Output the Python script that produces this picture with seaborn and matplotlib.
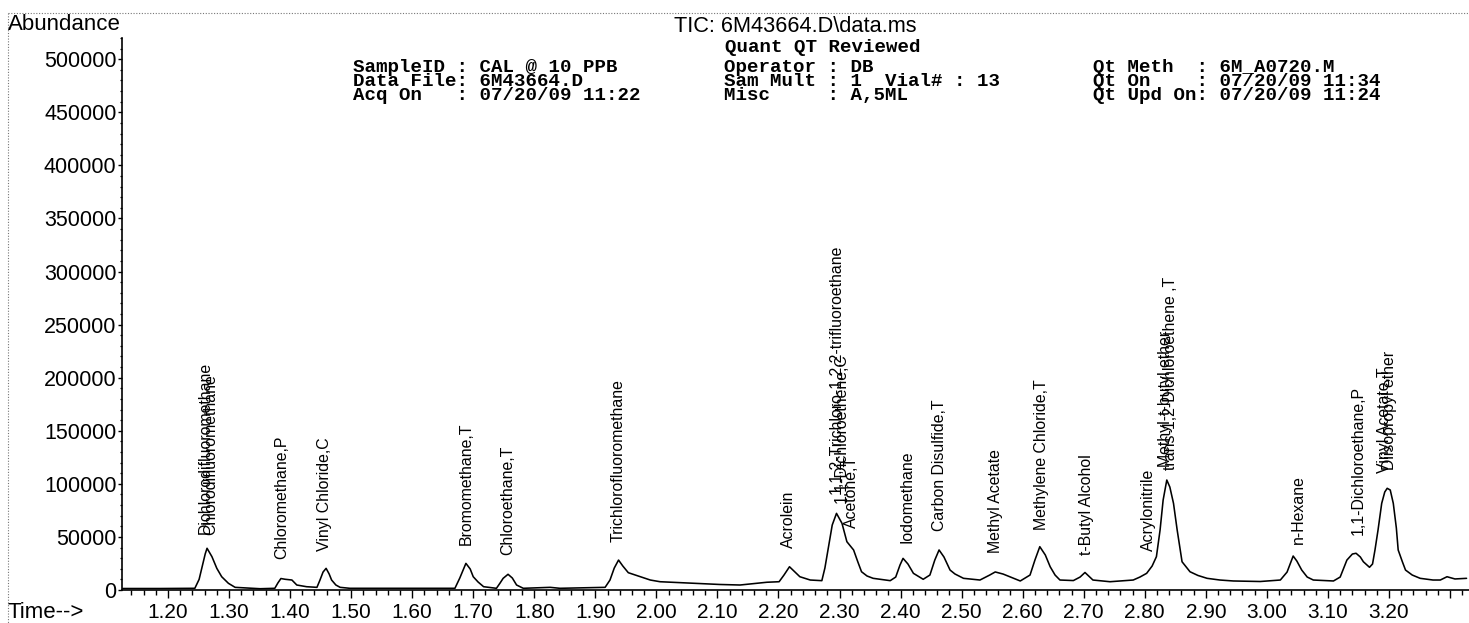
import numpy as np
import pandas as pd
import matplotlib
matplotlib.use("Agg")
import matplotlib.pyplot as plt
from matplotlib.ticker import MultipleLocator, FixedLocator, FixedFormatter
from matplotlib.lines import Line2D
import seaborn as sns

# ---------------- data ----------------
time_min = [
    1.126, 1.187, 1.244, 1.251, 1.256, 1.261, 1.264, 1.272, 1.280, 1.288, 1.299, 1.310, 1.351,
    1.375, 1.380, 1.385, 1.392, 1.403, 1.411, 1.427, 1.444, 1.449, 1.454, 1.459, 1.464, 1.468, 1.475, 1.482, 1.498, 1.580,
    1.670, 1.678, 1.688, 1.695, 1.700, 1.708, 1.717, 1.738, 1.744, 1.749, 1.757, 1.764, 1.771, 1.782, 1.826, 1.842,
    1.916, 1.924, 1.931, 1.938, 1.945, 1.954, 1.974, 1.990, 2.006, 2.039, 2.072, 2.104, 2.137, 2.181, 2.201,
    2.209, 2.218, 2.227, 2.235, 2.252, 2.271, 2.276, 2.282, 2.288, 2.295, 2.304, 2.312, 2.323, 2.330, 2.336, 2.345, 2.355, 2.383,
    2.392, 2.399, 2.404, 2.412, 2.421, 2.437, 2.448, 2.456, 2.463, 2.471, 2.481, 2.489, 2.503, 2.530,
    2.546, 2.555, 2.568, 2.585, 2.596, 2.612, 2.620, 2.628, 2.637, 2.645, 2.653, 2.661, 2.683, 2.694, 2.702, 2.710, 2.715, 2.743, 2.781,
    2.792, 2.803, 2.812, 2.819, 2.825, 2.830, 2.836, 2.841, 2.847, 2.853, 2.861, 2.874, 2.887, 2.902, 2.923, 2.945, 2.989,
    3.022, 3.033, 3.043, 3.049, 3.057, 3.066, 3.076, 3.109, 3.120, 3.131, 3.140, 3.146, 3.153, 3.158, 3.168, 3.173, 3.177,
    3.182, 3.188, 3.193, 3.197, 3.202, 3.207, 3.212, 3.215, 3.222, 3.227, 3.238, 3.251, 3.272, 3.284, 3.295, 3.308, 3.327,
]
abundance = [
    1400, 1400, 1600, 10000, 22000, 34000, 39300, 31400, 20400, 12500, 6300, 2500, 1200,
    1600, 6600, 10800, 10100, 9400, 4700, 3100, 2500, 9400, 16900, 20400, 15100, 9400, 4700, 2500, 1600, 1600,
    1600, 11300, 25100, 19800, 12500, 7500, 3100, 1600, 6600, 11000, 14800, 11300, 4700, 1600, 2500, 1600,
    2500, 9400, 20700, 28200, 22600, 16300, 12500, 9400, 7800, 6900, 6100, 5200, 4700, 7300, 7800,
    14100, 21900, 16900, 12500, 9400, 8800, 20700, 40800, 61200, 72200, 62800, 45500, 37700, 26400, 17200, 13200, 11000, 8800,
    12200, 23500, 29800, 24500, 15700, 10100, 14100, 28200, 37700, 31100, 18800, 15100, 11000, 9400,
    14100, 17000, 15000, 11000, 8500, 14100, 28200, 40800, 33000, 21900, 14100, 9400, 8900, 12200, 16500, 12200, 9400, 7800, 9400,
    12200, 15700, 22600, 31400, 56500, 84700, 103600, 97000, 81600, 56500, 26600, 17200, 13700, 11000, 9400, 8500, 8000,
    9400, 16900, 32000, 27300, 18800, 12200, 9400, 8500, 12200, 28200, 33900, 34600, 31100, 26600, 21400, 24500, 37700,
    56500, 81600, 92300, 95800, 94200, 81600, 58400, 37700, 26400, 18800, 14100, 11000, 9400, 9400, 12500, 10400, 11000,
]

peak_names = [
    "Dichlorodifluoromethane", "Chlorodifluoromethane", "Chloromethane,P", "Vinyl Chloride,C",
    "Bromomethane,T", "Chloroethane,T", "Trichlorofluoromethane", "Acrolein",
    "1,1,2-Trichloro-1,2,2-trifluoroethane", "1,1-Dichloroethene,C", "Acetone,T",
    "Iodomethane", "Carbon Disulfide,T", "Methyl Acetate", "Methylene Chloride,T",
    "t-Butyl Alcohol", "Acrylonitrile", "Methyl-t-butyl ether", "trans-1,2-Dichloroethene ,T",
    "n-Hexane", "1,1-Dichloroethane,P", "Vinyl Acetate,T", "Diisopropyl ether",
]
peak_rt = [
    1.261, 1.270, 1.386, 1.456, 1.689, 1.756, 1.937, 2.217,
    2.295, 2.303, 2.320, 2.410, 2.464, 2.555, 2.631,
    2.705, 2.806, 2.834, 2.842, 3.051, 3.149, 3.193, 3.200,
]

x_major = [1.20, 1.30, 1.40, 1.50, 1.60, 1.70, 1.80, 1.90, 2.00, 2.10, 2.20,
           2.30, 2.40, 2.50, 2.60, 2.70, 2.80, 2.90, 3.00, 3.10, 3.20, 3.30]
x_labels = ["1.20", "1.30", "1.40", "1.50", "1.60", "1.70", "1.80", "1.90", "2.00", "2.10", "2.20",
            "2.30", "2.40", "2.50", "2.60", "2.70", "2.80", "2.90", "3.00", "3.10", "3.20", ""]
y_major = [0, 50000, 100000, 150000, 200000, 250000, 300000, 350000, 400000, 450000, 500000]

title = "TIC: 6M43664.D\\data.ms"
subtitle = "Quant QT Reviewed"
header_col1 = ["SampleID : CAL @ 10 PPB", "Data File: 6M43664.D", "Acq On   : 07/20/09 11:22"]
header_col2 = ["Operator : DB", "Sam Mult : 1  Vial# : 13", "Misc     : A,5ML"]
header_col3 = ["Qt Meth  : 6M_A0720.M", "Qt On    : 07/20/09 11:34", "Qt Upd On: 07/20/09 11:24"]

# ---------------- figure ----------------
sns.set_theme(style="ticks")
plt.rcParams["font.family"] = ["Liberation Sans", "DejaVu Sans"]

W, H = 1469, 623
fig = plt.figure(figsize=(W / 100, H / 100), dpi=100, facecolor="white")

def fx(px):
    return px / W

def fy(py):
    return 1 - py / H

ax = fig.add_axes([fx(122), fy(590), fx(1469) - fx(122), fy(38) - fy(590)])
ax.set_facecolor("white")

df = pd.DataFrame({"time": time_min, "abundance": abundance})
sns.lineplot(data=df, x="time", y="abundance", ax=ax, color="black", linewidth=1.15,
             sort=True, estimator=None)

ax.set_xlim(1.1247, 3.331)
ax.set_ylim(0, 520000)

ax.set_xlabel("")
ax.set_ylabel("")
for s in ["top", "right"]:
    ax.spines[s].set_visible(False)
for s in ["left", "bottom"]:
    ax.spines[s].set_linewidth(1.2)
    ax.spines[s].set_color("black")

ax.xaxis.set_major_locator(FixedLocator(x_major))
ax.xaxis.set_major_formatter(FixedFormatter(x_labels))
ax.xaxis.set_minor_locator(MultipleLocator(0.02))
ax.yaxis.set_major_locator(FixedLocator(y_major))
ax.yaxis.set_major_formatter(FixedFormatter([str(v) for v in y_major]))
ax.yaxis.set_minor_locator(MultipleLocator(10000))

ax.tick_params(axis="x", which="major", direction="out", length=6, width=1.0,
               color="black", pad=3.5, labelsize=15, labelcolor="black")
ax.tick_params(axis="x", which="minor", direction="out", length=3.6, width=1.0, color="black")
ax.tick_params(axis="y", which="major", direction="out", length=3, width=1.0,
               color="black", pad=1.0, labelsize=15.5, labelcolor="black")
ax.tick_params(axis="y", which="minor", direction="out", length=1.6, width=0.9, color="black")

# peak labels
t_arr = np.array(time_min, dtype=float)
a_arr = np.array(abundance, dtype=float)
for name, rt in zip(peak_names, peak_rt):
    h = float(np.interp(rt, t_arr, a_arr))
    ax.annotate(name, xy=(rt, h), xytext=(0, 14), textcoords="offset points",
                rotation=90, ha="center", va="bottom", fontsize=11.4,
                color="black", annotation_clip=False)

# header texts
fig.text(fx(8), fy(25), "Abundance", ha="left", va="center", fontsize=16, color="black")
fig.text(fx(8), fy(613), "Time-->", ha="left", va="center", fontsize=16, color="black")
fig.text(fx(795), fy(26), title, ha="center", va="center", fontsize=15.7, color="black")

mono = dict(family=["Liberation Mono", "DejaVu Sans Mono"], fontweight="bold",
            fontsize=13.8, color="black", ha="left", va="center")
fig.text(fx(725), fy(48), subtitle, **mono)
line_y = [67.5, 81, 95.5]
for ly, t1, t2, t3 in zip(line_y, header_col1, header_col2, header_col3):
    fig.text(fx(353), fy(ly), t1, **mono)
    fig.text(fx(724), fy(ly), t2, **mono)
    fig.text(fx(1093), fy(ly), t3, **mono)

# dotted scan border
fig.add_artist(Line2D([fx(8), fx(1469)], [fy(13), fy(13)], transform=fig.transFigure,
                      color="#777777", linewidth=0.8, linestyle=(0, (1, 1.5))))
fig.add_artist(Line2D([fx(8), fx(8)], [fy(13), fy(623)], transform=fig.transFigure,
                      color="#777777", linewidth=0.8, linestyle=(0, (1, 1.5))))

fig.savefig("out.png", dpi=100, facecolor="white")
